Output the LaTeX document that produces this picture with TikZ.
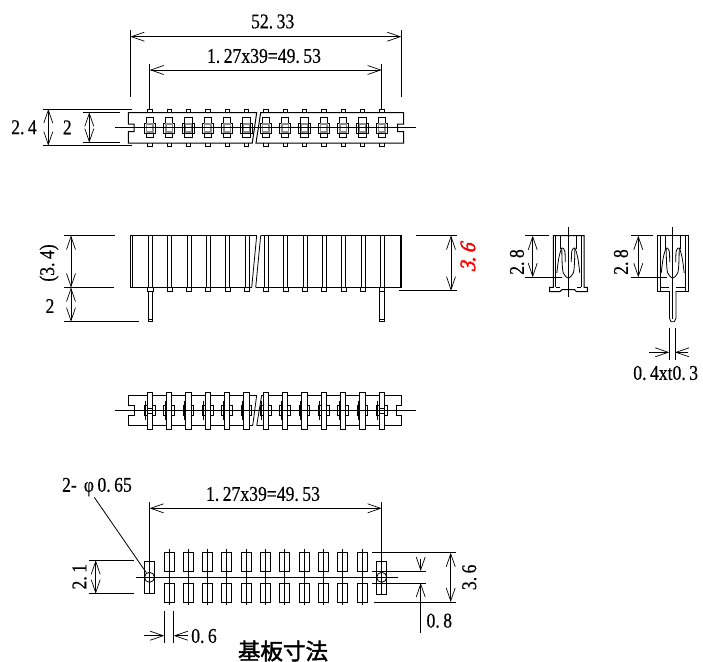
\documentclass[tikz,border=0pt]{standalone}
\usepackage{fontspec}
\setmainfont[FakeStretch=0.84,FakeBold=0.4]{Liberation Serif}
\newfontfamily\cjk[FakeBold=2]{Noto Sans CJK JP}
\newfontfamily\redfont[FakeStretch=0.9,FakeSlant=0.3,FakeBold=2]{Liberation Serif}
\usetikzlibrary{positioning,arrows.meta}
\tikzset{
  dimtext/.style={inner sep=0pt, text centered, font=\fontsize{21}{21}\selectfont},
  dimline/.style={line width=0.8},
  dimarrow/.style={line width=0.8, <->, >={Straight Barb[length=13pt,width=9pt,line width=0.7pt]}},
  onearrow/.style={line width=0.8, ->, >={Straight Barb[length=13pt,width=9pt,line width=0.7pt]}},
  part/.style={line width=1},
  fine/.style={line width=0.8}
}
\begin{document}
\begin{tikzpicture}[x=1pt, y=-1pt]
\useasboundingbox (0,0) rectangle (703,661);

% top view %
\draw[part] (256.7,112.5) -- (128.3,112.5) -- (128.3,124) -- (134,124) -- (134,131.7) -- (128.3,131.7) -- (128.3,143) -- (252.3,143) -- cycle;
\draw[part] (260.7,112.5) -- (403.5,112.5) -- (403.5,124) -- (397.7,124) -- (397.7,131.7) -- (403.5,131.7) -- (403.5,143) -- (256,143) -- cycle;
\draw[fine] (115,127) -- (416,127);
\foreach \n in {0,...,12}{
  \pgfmathsetmacro\px{149.8+19.33*\n}
  \draw[fine] (\px-2.2,112.5) -- (\px-2.2,109) -- (\px+2.2,109) -- (\px+2.2,112.5);
  \draw[fine] (\px-2.2,143) -- (\px-2.2,146.5) -- (\px+2.2,146.5) -- (\px+2.2,143);
  \draw[fine, fill=white] (\px-3.7,117.5) rectangle (\px+3.7,137.5);
  \draw[fine] (\px-5.7,123) rectangle (\px+5.7,133);
  \draw[line width=1.2, black!45] (\px-3.2,124) rectangle (\px+3.2,132);
  \draw[fine] (\px-5.7,127) -- (\px+5.7,127);
}

% top view dimensions %
\draw[dimline] (130.3,30) -- (130.3,97);
\draw[dimline] (401.3,30) -- (401.3,97);
\draw[dimarrow] (130.3,36.7) -- (401.3,36.7);
\node[dimtext] (total) at (272.7,21.5) {52.\,33};
\draw[dimline] (149.7,63.5) -- (149.7,110);
\draw[dimline] (381.7,63.5) -- (381.7,110);
\draw[dimarrow] (149.7,70) -- (381.7,70);
\node[dimtext] (pitch) at (264,56) {1.\,27x39=49.\,53};
\draw[dimline] (42.7,109) -- (131.7,109);
\draw[dimline] (42.7,145.7) -- (131.7,145.7);
\draw[dimarrow] (48.3,109) -- (48.3,145.7);
\node[dimtext] (toph) at (24,127.3) {2.\,4};
\draw[dimline] (82.7,112.3) -- (119.5,112.3);
\draw[dimline] (82.7,142.7) -- (120,142.7);
\draw[dimarrow] (89.3,112.3) -- (89.3,142.7);
\node[dimtext] (topi) at (67.3,127.3) {2};

% front view %
\draw[part] (256.7,235.5) -- (130.5,235.5) -- (130.5,287.5) -- (251.7,287.5);
\draw[part] (260.7,235.5) -- (401.7,235.5) -- (401.7,287.5) -- (255.7,287.5);
\draw[fine] (256.7,235.5) -- (251.7,287.5);
\draw[fine] (260.7,235.5) -- (255.7,287.5);
\draw[fine] (132,235.5) -- (132,287.5);
\draw[fine] (400.2,235.5) -- (400.2,287.5);
\foreach \n in {0,...,12}{
  \pgfmathsetmacro\px{150.3+19.33*\n}
  \draw[fine] (\px-2,235.5) -- (\px-2,287.5);
  \draw[fine] (\px+2,235.5) -- (\px+2,287.5);
  \draw[fine] (\px-2.6,287.5) -- (\px-2.6,291) -- (\px+2.6,291) -- (\px+2.6,287.5);
}
\foreach \px in {150.3,382}{
  \draw[fine] (\px-2.4,291) -- (\px-2.4,321.7) -- (\px+2.4,321.7) -- (\px+2.4,291);
  \draw[fine] (\px-2.4,319.5) -- (\px+2.4,319.5);
}

% front view dimensions %
\draw[dimline] (64,235.5) -- (115,235.5);
\draw[dimline] (64,287.5) -- (114,287.5);
\draw[dimline] (64,321.7) -- (139,321.7);
\draw[dimarrow] (71,235.5) -- (71,287.5);
\draw[dimarrow] (71,287.5) -- (71,321.7);
\node[dimtext, rotate=90] (body) at (49,263) {(3.\,4)};
\node[dimtext] (tail) at (50,306) {2};
\draw[dimline] (416,235.5) -- (457,235.5);
\draw[dimline] (399,290.7) -- (457,290.7);
\draw[dimarrow] (451,235.5) -- (451,290.7);
\node[dimtext, rotate=90, red, font=\redfont\fontsize{22}{22}\selectfont] (high) at (468,258) {3.\,6};

% side views %
\foreach \vx/\vb in {568.3/287.3,672.7/291}{
\begin{scope}[xshift=\vx pt]
  \draw[fine] (-12.6,235.7) -- (-12.6,\vb);
  \draw[fine] (12.6,235.7) -- (12.6,\vb);
  \draw[fine] (-7.7,235.7) -- (-7.7,249);
  \draw[fine] (7.7,235.7) -- (7.7,249);
  \draw[fine] plot[smooth] coordinates {(-11.5,273) (-9.5,258) (-6.5,248) (-3.5,251) (-3,262)};
  \draw[fine] plot[smooth] coordinates {(11.5,273) (9.5,258) (6.5,248) (3.5,251) (3,262)};
  \draw[fine] plot[smooth] coordinates {(-6.5,248) (-6.2,262) (-5,273) (0,278) (5,273) (6.2,262) (6.5,248)};
\end{scope}
}
\draw[part] (553.3,287.3) -- (553.3,235.7) -- (584,235.7) -- (584,287.3) -- (587.3,287.3) -- (587.3,291.7) -- (576.5,291.7) -- (574.5,289.5) -- (562,289.5) -- (560,291.7) -- (549.7,291.7) -- (549.7,287.3) -- cycle;
\draw[fine] (555.7,287.3) -- (560,287.3);
\draw[fine] (577,287.3) -- (581,287.3);
\draw[fine] (568.3,226.7) -- (568.3,296.7);
\draw[part] (669.4,291) -- (657.7,291) -- (657.7,235.7) -- (688.3,235.7) -- (688.3,291) -- (676,291);
\draw[fine] (669.4,291) -- (669.4,318) -- (671,321.7) -- (674.4,321.7) -- (676,318) -- (676,291);
\draw[fine] (672.7,226.7) -- (672.7,319);
\draw[fine] (660.2,287) -- (669.4,287);
\draw[fine] (676,287) -- (685.5,287);

% side view dimensions %
\draw[dimline] (525,235.7) -- (549,235.7);
\draw[dimline] (525,277.3) -- (561.7,277.3);
\draw[dimarrow] (532.7,235.7) -- (532.7,277.3);
\node[dimtext, rotate=90] (sidea) at (517,262) {2.\,8};
\draw[dimline] (630.7,235.7) -- (653,235.7);
\draw[dimline] (630.7,277.3) -- (666.7,277.3);
\draw[dimarrow] (638.3,235.7) -- (638.3,277.3);
\node[dimtext, rotate=90] (sideb) at (621,262) {2.\,8};
\draw[dimline] (669.3,328) -- (669.3,360);
\draw[dimline] (675,328) -- (675,360);
\draw[onearrow] (649,352.3) -- (669.3,352.3);
\draw[onearrow] (688,352.3) -- (675,352.3);
\node[dimtext] (blade) at (665.7,373) {0.\,4xt0.\,3};

% bottom view %
\draw[part] (256.7,395) -- (128.3,395) -- (128.3,405.5) -- (134.3,405.5) -- (134.3,415.7) -- (128.3,415.7) -- (128.3,425.7) -- (252.7,425.7);
\draw[part] (261.7,395) -- (401.7,395) -- (401.7,405.5) -- (396,405.5) -- (396,415.7) -- (401.7,415.7) -- (401.7,425.7) -- (256.7,425.7);
\draw[fine] (256.7,395) -- (252.7,425.7);
\draw[fine] (261.7,395) -- (256.7,425.7);
\foreach \n in {0,...,12}{
  \pgfmathsetmacro\px{149.7+19.33*\n}
  \draw[fine] (\px-5.4,405.7) rectangle (\px+5.4,415.3);
  \draw[fine] (\px-4,400.5) -- (\px-4,420);
  \draw[fine, fill=white] (\px-2.7,392.3) rectangle (\px+2.7,429.7);
}
\foreach \px in {149.7,381.7}{
  \draw[fine] (\px-2.7,408) rectangle (\px+2.7,413.3);
}
\draw[fine] (115,410.7) -- (416,410.7);

% footprint %
\draw[fine] (135.7,577.3) -- (397.7,577.3);
\foreach \n in {1,...,11}{
  \pgfmathsetmacro\px{149.6+19.3*\n}
  \draw[fine] (\px,549.3) -- (\px,605);
  \draw[fine] (\px-5,552.7) rectangle (\px+5,571.3);
  \draw[fine] (\px-5,583.3) rectangle (\px+5,602);
}
\draw[fine] (144.7,561) rectangle (154.7,593.7);
\draw[fine] (376.7,561) rectangle (386.7,594);
\node[circle, draw, line width=0.8, minimum size=10pt, inner sep=0pt] (hola) at (149.5,577.3) {};
\node[circle, draw, line width=0.8, minimum size=10pt, inner sep=0pt] (holb) at (381.7,577.3) {};
\draw[fine] (149.5,553) -- (149.5,594);
\draw[fine] (381.7,552.7) -- (381.7,594);

% footprint dimensions %
\draw[dimline] (149.5,502) -- (149.5,553);
\draw[dimline] (381.7,502) -- (381.7,552.7);
\draw[dimarrow] (149.5,508.3) -- (381.7,508.3);
\node[dimtext] (pitchb) at (263,494) {1.\,27x39=49.\,53};
\node[dimtext] (hole) at (97,487) {2-\,\,φ\,0.\,65};
\draw[fine] (94.3,497.3) -- (hola);
\draw[dimline] (89.3,560.3) -- (134,560.3);
\draw[dimline] (89.3,593.7) -- (134,593.7);
\draw[dimarrow] (95.7,560.3) -- (95.7,593.7);
\node[dimtext, rotate=90] (rows) at (79.5,576.7) {2.\,1};
\draw[dimline] (164.3,611.3) -- (164.3,642.7);
\draw[dimline] (173.7,611.3) -- (173.7,642.7);
\draw[onearrow] (144.3,635.7) -- (164.3,635.7);
\draw[onearrow] (187.7,635.7) -- (173.7,635.7);
\node[dimtext] (padw) at (204,636) {0.\,6};
\draw[dimline] (372.3,552.7) -- (455.7,552.7);
\draw[dimline] (374.3,602) -- (455.7,602);
\draw[dimarrow] (450.7,552.7) -- (450.7,602);
\node[dimtext, rotate=90] (span) at (469.3,577.3) {3.\,6};
\draw[dimline] (372.3,571) -- (425.7,571);
\draw[dimline] (372.3,583) -- (425.7,583);
\draw[onearrow] (420.7,559) -- (420.7,571);
\draw[onearrow] (420.7,632.7) -- (420.7,583);
\node[dimtext] (gap) at (439.3,620.7) {0.\,8};
\node[inner sep=0pt, font=\cjk\fontsize{22.5}{22.5}\selectfont] (title) at (283,651) {基板寸法};

\end{tikzpicture}
\end{document}
